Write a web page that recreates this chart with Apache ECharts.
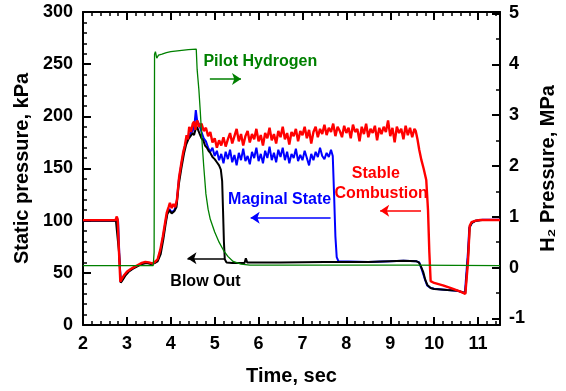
<!DOCTYPE html>
<html><head><meta charset="utf-8">
<script src="https://cdn.jsdelivr.net/npm/echarts@6/dist/echarts.min.js"></script>
<style>html,body{margin:0;padding:0;background:#fff}#c{width:566px;height:391px}</style>
</head><body><div id="c"></div>
<script>
// ---- Data (time in s, static pressure in kPa, H2 pressure in MPa) ----
const rightTicks = [-1,0,1,2,3,4,5];
const rightMinorTicks = [-0.5,0.5,1.5,2.5,3.5,4.5];

// Stable Combustion (red)
const redHeadT = [2.0,2.74,2.77,2.79,2.82,2.85,2.88,2.94,3.0,3.08,3.16,3.25,3.34,3.42,3.5,3.58,3.64,3.7,3.76,3.82,3.87,3.91,3.95,3.98,4.02,4.06,4.1,4.14,4.19,4.24,4.28,4.32,4.36,4.39,4.42,4.46,4.5,4.53,4.56];
const redHeadV = [100.5,100.5,104,101,70,41.5,44,48,51,53.5,55.5,57.5,59.5,60.5,60,59,60.5,63,72,85,98,108,113,117,112,116,113,120,142,155,165,172,182,178,190,185,193,195,187];
const redNoiseStart = 4.60;
const redNoiseV = [196,190,193,186,189,181,185,175,179,170,
  177,172,180,171,178,184,174,181,188,176,
  183,172,181,186,175,183,178,188,176,182,
  172,184,179,189,177,183,174,186,180,190,
  178,184,173,185,181,188,176,186,182,190,
  179,187,174,185,190,180,188,183,192,182,
  189,185,193,181,190,186,180,191,184,189,
  179,192,185,188,176,190,183,193,180,188,
  184,191,177,189,183,190,185,196,181,189,
  175,190,184,188,178,191,182,189,180,188];
const redTailT = [9.58,9.62,9.66,9.71,9.76,9.82,9.86,9.89,9.92,10.0,10.2,10.4,10.6,10.71,10.74,10.77,10.81,10.85,10.95,11.05,11.5];
const redTailV = [186,178,168,158,150,139,110,70,42,40.3,38,35,32,29.7,30.5,60,95,98.5,100,100.6,100.6];

// Maginal State (blue)
const blueHeadT = [2.0,2.75,2.78,2.8,2.83,2.86,2.9,2.96,3.04,3.14,3.25,3.34,3.45,3.55,3.64,3.7,3.77,3.83,3.88,3.92,3.97,4.02,4.08,4.13,4.18,4.24,4.3,4.35,4.4,4.45,4.5,4.54,4.57,4.6];
const blueHeadV = [100,100,102,99,65,41,44,48,51.5,54.5,57,59,60,59,60,62,72,86,99,108,111,108,110,116,138,154,168,176,180,184,186,192,206,196];
const blueNoiseStart = 4.65;
const blueNoiseV = [192,185,179,176,170,166,170,162,167,158,
  164,155,166,159,168,156,163,153,165,158,
  169,157,162,154,166,160,170,157,164,155,
  167,160,171,158,165,156,168,161,170,158,
  166,155,164,160,169,157,163,158,167,160,
  153,164,158,166,161,170,162,159,165,161,168];
const blueTailT = [7.69,7.72,7.75,7.78,7.82,8.5,9.0,9.3,9.6,9.66,9.72,9.78,9.84,9.92,10.0,10.3,10.53,10.7,10.74,10.77,10.8,10.86,10.95,11.1,11.5];
const blueTailV = [162,125,85,65,61,60.5,61,61.5,61,60,53,45,38,35.5,34.8,33.5,32.9,30.6,31,70,93,98,100,100.8,100.8];

// Blow Out (black)
const blackT = [2.0,2.75,2.79,2.82,2.86,2.9,2.96,3.04,3.14,3.25,3.34,3.45,3.55,3.64,3.7,3.77,3.83,3.88,3.92,3.97,4.02,4.08,4.13,4.18,4.24,4.3,4.35,4.4,4.45,4.5,4.53,4.56,4.6,4.63,4.66,4.7,4.74,4.78,4.82,4.86,4.9,4.95,5.0,5.05,5.1,5.14,5.17,5.19,5.21,5.23,5.27,5.4,5.68,5.71,5.74,6.5,7.5,8.5,9.3,9.6,9.65,9.7,9.75,9.8,9.85,9.92,10.0,10.3,10.53,10.71,10.75,10.78,10.81,10.86,10.95,11.1,11.5];
const blackV = [100,100,100,70,40.5,43,47,51,54,56.5,58.5,59.5,58.5,59.5,61,68,82,96,106,110,107,109,113,134,150,164,173,178,181,184,182,187,190,186,183,179,177,172,170,167,165,161,159,156,153,149,138,110,80,63,60,59.5,59.5,64,60,60,60.5,60.5,61.5,61,60,56,51,43,38,35.5,34.5,33.5,32.9,30.4,32,70,94,98,100,100.6,100.6];

// Pilot Hydrogen (green, MPa)
const h2T = [2.0,3.6,3.62,3.63,3.65,3.68,3.72,3.8,3.9,4.0,4.2,4.4,4.58,4.6,4.64,4.67,4.71,4.75,4.8,4.85,4.9,5.0,5.1,5.2,5.3,5.42,5.6,5.8,6.5,8.0,9.5,11.5];
const h2V = [0.04,0.04,0.3,4.2,4.25,4.12,4.18,4.2,4.23,4.25,4.27,4.29,4.3,3.9,3.5,3.1,2.5,2.0,1.45,1.15,0.95,0.7,0.5,0.34,0.22,0.12,0.07,0.05,0.05,0.05,0.05,0.04];

// ---- build ----
function pairs(t, v) { return t.map((x, i) => [x, v[i]]); }
function grid(start, step, v) { return v.map((y, i) => [Math.round((start + i * step) * 100) / 100, y]); }
const redData = pairs(redHeadT, redHeadV).concat(grid(redNoiseStart, 0.05, redNoiseV), pairs(redTailT, redTailV));
const blueData = pairs(blueHeadT, blueHeadV).concat(grid(blueNoiseStart, 0.05, blueNoiseV), pairs(blueTailT, blueTailV));
const blackData = pairs(blackT, blackV);
const h2Data = pairs(h2T, h2V);

const FONT = '"Liberation Sans", Arial, sans-serif';
function lbl(extra) { return Object.assign({ color: '#000', fontFamily: FONT, fontWeight: 'bold', fontSize: 18 }, extra); }
function axLine() { return { show: true, onZero: false, lineStyle: { color: '#000', width: 2 } }; }
function major(extra) { return Object.assign({ show: true, inside: true, length: 8, lineStyle: { color: '#000', width: 2 } }, extra); }
function minor() { return { show: true, splitNumber: 5, length: 4, lineStyle: { color: '#000', width: 1.5 } }; }
function nameStyle() { return { color: '#000', fontFamily: FONT, fontWeight: 'bold', fontSize: 20 }; }

// annotation texts (placed in data coordinates of the kPa axis)
const notes = [
  { text: 'Pilot Hydrogen', at: [6.04, 252], color: '#008000' },
  { text: 'Maginal State', at: [6.48, 119.8], color: '#0000ff' },
  { text: 'Stable', at: [8.67, 144.7], color: '#ff0000' },
  { text: 'Combustion', at: [8.79, 126.2], color: '#ff0000' },
  { text: 'Blow Out', at: [4.79, 41.5], color: '#000000' }
];

const chart = echarts.init(document.getElementById('c'));
function arrow(color, a, b) {
  return {
    silent: true, symbol: ['none', 'arrow'], symbolSize: 9,
    label: { show: false }, lineStyle: { color: color, width: 1.5, type: 'solid' },
    data: [[{ coord: a }, { coord: b }]]
  };
}
const option = {
  animation: false,
  grid: { left: 83, right: 57, top: 12, bottom: 66 },
  xAxis: [{
    type: 'value', min: 2, max: 11.5, interval: 1,
    name: 'Time, sec', nameLocation: 'middle', nameGap: 41, nameTextStyle: nameStyle(),
    axisLine: axLine(), axisTick: major(), minorTick: minor(),
    axisLabel: lbl({ margin: 10, showMaxLabel: false }),
    splitLine: { show: false }
  }, {
    type: 'value', min: 2, max: 11.5, interval: 1, position: 'top',
    axisLine: axLine(), axisTick: major(), minorTick: minor(),
    axisLabel: { show: false }, splitLine: { show: false }
  }],
  yAxis: [{
    type: 'value', min: 0, max: 300, interval: 50,
    name: 'Static pressure, kPa', nameLocation: 'middle', nameGap: 51, nameRotate: 90, nameTextStyle: nameStyle(),
    axisLine: axLine(), axisTick: major(), minorTick: minor(),
    axisLabel: lbl({ margin: 10 }),
    splitLine: { show: false }
  }, {
    type: 'value', min: -1.13, max: 5.03, position: 'right',
    name: 'H\u2082 Pressure, MPa', nameLocation: 'middle', nameGap: 38, nameRotate: 90, nameTextStyle: nameStyle(),
    axisLine: axLine(), axisTick: major({ customValues: rightTicks }),
    axisLabel: lbl({ margin: 9, customValues: rightTicks }),
    splitLine: { show: false }
  }, {
    type: 'value', min: -1.13, max: 5.03, position: 'right',
    axisLine: { show: false, onZero: false },
    axisTick: { show: true, inside: true, length: 4, lineStyle: { color: '#000', width: 1.5 }, customValues: rightMinorTicks },
    axisLabel: { show: false }, splitLine: { show: false }
  }],
  series: [
    { name: 'Maginal State', type: 'line', data: blueData, yAxisIndex: 0, showSymbol: false,
      lineStyle: { color: '#0000ff', width: 2 },
      markLine: arrow('#0000ff', [7.64, 102.8], [5.82, 102.8]) },
    { name: 'Blow Out', type: 'line', data: blackData, yAxisIndex: 0, showSymbol: false,
      lineStyle: { color: '#000000', width: 2 },
      markLine: arrow('#000000', [5.23, 63.9], [4.38, 63.9]),
      markPoint: {
        silent: true, symbol: 'circle', symbolSize: 1,
        itemStyle: { color: 'rgba(0,0,0,0)' },
        data: notes.map(n => ({
          coord: n.at,
          label: { show: true, position: 'inside', formatter: n.text, color: n.color,
                   fontFamily: FONT, fontWeight: 'bold', fontSize: 16 }
        }))
      } },
    { name: 'Stable Combustion', type: 'line', data: redData, yAxisIndex: 0, showSymbol: false,
      lineStyle: { color: '#ff0000', width: 2.4 },
      markLine: arrow('#ff0000', [9.70, 109.6], [8.77, 109.6]) },
    { name: 'Pilot Hydrogen', type: 'line', data: h2Data, yAxisIndex: 1, showSymbol: false,
      lineStyle: { color: '#008000', width: 1.3 },
      markLine: arrow('#008000', [4.89, 3.71], [5.6, 3.71]) }
  ]
};
chart.setOption(option);
</script></body></html>
